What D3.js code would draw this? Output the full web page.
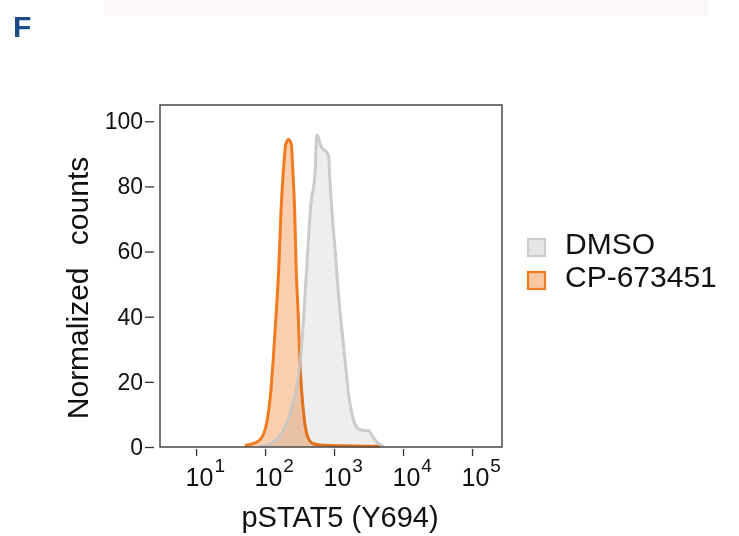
<!DOCTYPE html>
<html>
<head>
<meta charset="utf-8">
<script src="https://cdn.jsdelivr.net/npm/d3@7"></script>
<style>
  body { margin: 0; background: #fff; }
  text { font-family: "Liberation Sans", Arial, sans-serif; fill: #111; }
</style>
</head>
<body>
<div id="graph"></div>
<script>
"use strict";

// fluorescence intensity (x) and normalized counts (y)
let cpIntensity = [51, 76, 95, 107, 120, 132, 145, 158, 170, 186, 200, 219, 240, 251, 269, 282, 302, 316, 339, 372, 417, 501, 708, 4677];
let cpCounts = [0.5, 1.5, 4, 8, 16, 27.6, 41, 55, 72, 86, 93, 94.4, 93, 86, 72, 55, 41, 28.7, 17.4, 8.2, 3, 1, 0.5, 0.2];

let dmsoIntensity = [85, 120, 166, 209, 245, 288, 324, 363, 407, 460, 479, 501, 537, 559, 575, 631, 661, 741, 832, 871, 955, 1047, 1148, 1288, 1445, 1622, 1820, 2042, 2239, 2692, 3162, 3548, 3981, 4677, 5248];
let dmsoCounts = [0.2, 1, 3.6, 7.7, 12.3, 18.4, 26.6, 40, 57, 74, 77.3, 79.3, 86, 95.7, 95.7, 93, 92, 91, 89.6, 82, 69.6, 59.4, 48, 36.8, 26.6, 16.4, 10.2, 6.7, 5.6, 5.1, 5.1, 3.6, 2, 0.7, 0.2];

let seriesNames = ['DMSO', 'CP-673451'];
let yTicks = [0, 20, 40, 60, 80, 100];
let xTickExps = [1, 2, 3, 4, 5];

let translateStr = (x, y) => 'translate(' + x + ', ' + y + ')';

let box = { left: 160, right: 502, top: 105, bottom: 447 };

let svg = d3.select('#graph')
  .append('svg')
  .attr('width', 739)
  .attr('height', 536);

// faint band at the very top of the panel
svg.append('rect')
  .attr('x', 104).attr('y', 0)
  .attr('width', 604).attr('height', 16)
  .attr('fill', '#fcf8f9');

svg.append('text')
  .attr('x', 13).attr('y', 37)
  .style('font-size', '30px')
  .style('font-weight', 'bold')
  .style('fill', '#1b4b89')
  .text('F');

let x = d3.scaleLog()
  .domain([3, 272000])
  .range([box.left, box.right]);

let y = d3.scaleLinear()
  .domain([0, 105])
  .range([box.bottom, box.top]);

let area = d3.area()
  .x(d => x(d.x))
  .y0(y(0))
  .y1(d => y(d.y))
  .curve(d3.curveMonotoneX);

let line = d3.line()
  .x(d => x(d.x))
  .y(d => y(d.y))
  .curve(d3.curveMonotoneX);

let zip = (xs, ys) => xs.map((v, i) => ({ x: v, y: ys[i] }));
let cpData = zip(cpIntensity, cpCounts);
let dmsoData = zip(dmsoIntensity, dmsoCounts);

let plot = svg.append('g');

plot.append('path')
  .datum(cpData)
  .attr('d', area)
  .attr('fill', '#f9c7a2')
  .attr('fill-opacity', 0.85);

plot.append('path')
  .datum(cpData)
  .attr('d', line)
  .attr('fill', 'none')
  .attr('stroke', '#f27b1f')
  .attr('stroke-width', 3);

plot.append('path')
  .datum(dmsoData)
  .attr('d', area)
  .attr('fill', '#e8e8e8')
  .attr('fill-opacity', 0.75)
  .style('mix-blend-mode', 'multiply');

plot.append('path')
  .datum(dmsoData)
  .attr('d', line)
  .attr('fill', 'none')
  .attr('stroke', '#c6c6c6')
  .attr('stroke-width', 3)
  .attr('stroke-opacity', 0.9);

// frame
svg.append('rect')
  .attr('x', box.left).attr('y', box.top)
  .attr('width', box.right - box.left)
  .attr('height', box.bottom - box.top)
  .attr('fill', 'none')
  .attr('stroke', '#4a4a4a')
  .attr('stroke-width', 1.5);

// y axis
let yAxis = svg.append('g')
  .attr('transform', translateStr(154, 0))
  .call(d3.axisLeft(y).tickValues(yTicks).tickSize(9).tickPadding(2));
yAxis.select('.domain').remove();
yAxis.selectAll('line').attr('stroke', '#333').attr('stroke-width', 1.3);
yAxis.selectAll('text')
  .style('font-size', '23px')
  .style('font-family', '"Liberation Sans", Arial, sans-serif')
  .attr('fill', '#111');

// x axis, 10^n labels
let xAxis = svg.append('g')
  .attr('transform', translateStr(0, 449))
  .call(d3.axisBottom(x)
    .tickValues(xTickExps.map(e => Math.pow(10, e)))
    .tickSize(7)
    .tickFormat(''));
xAxis.select('.domain').remove();
xAxis.selectAll('line').attr('stroke', '#333').attr('stroke-width', 1.3);
xAxis.selectAll('.tick').each(function (d, i) {
  let t = d3.select(this).append('text')
    .attr('x', -11)
    .attr('y', 37)
    .attr('text-anchor', 'start')
    .attr('fill', '#111')
    .style('font-size', '25px');
  t.append('tspan').text('10');
  t.append('tspan')
    .attr('dy', -14)
    .attr('dx', 1)
    .style('font-size', '19px')
    .text(xTickExps[i]);
});

svg.append('text')
  .attr('x', 340).attr('y', 527)
  .attr('text-anchor', 'middle')
  .style('font-size', '29px')
  .text('pSTAT5 (Y694)');

svg.append('text')
  .attr('transform', translateStr(88, 288) + ' rotate(-90)')
  .attr('text-anchor', 'middle')
  .style('font-size', '30px')
  .style('word-spacing', '14px')
  .text('Normalized counts');

// legend
let legendFill = ['#e6e6e6', '#f9c7a2'];
let legendStroke = ['#cccccc', '#f27b1f'];
let legend = svg.append('g').attr('transform', translateStr(528, 239));
seriesNames.forEach((name, i) => {
  let g = legend.append('g').attr('transform', translateStr(0, i * 33));
  g.append('rect')
    .attr('width', 17).attr('height', 17)
    .attr('fill', legendFill[i])
    .attr('stroke', legendStroke[i])
    .attr('stroke-width', 2.2);
  g.append('text')
    .attr('x', 37).attr('y', 15)
    .style('font-size', '30px')
    .text(name);
});
</script>
</body>
</html>
